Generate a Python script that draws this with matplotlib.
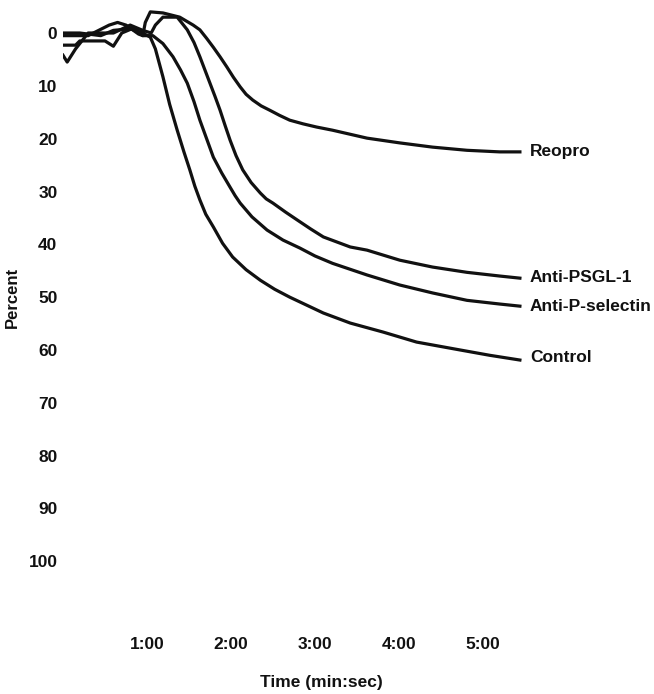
import matplotlib.pyplot as plt

plt.rcParams['font.family'] = ['Liberation Sans', 'DejaVu Sans']

# time in minutes, value in percent (axis is inverted)
t_control = [0.0, 0.2, 0.45, 0.6, 0.8, 0.95, 1.04, 1.10, 1.19, 1.27, 1.36, 1.44, 1.51, 1.57,
             1.63, 1.70, 1.79, 1.90, 2.02, 2.18, 2.35, 2.52, 2.70, 3.10, 3.42, 3.81, 4.21,
             4.73, 5.08, 5.44]
v_control = [0.0, 0.0, 0.5, -0.5, -0.8, 0.0, 0.8, 3.0, 8.3, 13.5, 18.4, 22.5, 25.9, 29.0,
             31.6, 34.3, 36.7, 39.8, 42.4, 44.8, 46.8, 48.5, 50.0, 53.0, 54.9, 56.6, 58.5,
             60.0, 61.0, 61.9]

t_psel = [0.0, 0.15, 0.2, 0.5, 0.6, 0.7, 0.85, 0.95, 1.07, 1.19, 1.31, 1.40, 1.48, 1.56, 1.63,
          1.71, 1.79, 1.89, 1.99, 2.05, 2.11, 2.25, 2.43, 2.62, 2.82, 3.0, 3.21, 3.62, 4.01,
          4.40, 4.81, 5.20, 5.44]
v_psel = [2.3, 2.3, 1.5, 1.5, 2.5, 0.0, -1.0, 0.5, 0.5, 2.0, 4.5, 7.0, 9.5, 13.0, 16.5,
          20.0, 23.5, 26.5, 29.2, 30.8, 32.2, 34.8, 37.3, 39.2, 40.7, 42.2, 43.6, 45.8, 47.7,
          49.2, 50.6, 51.3, 51.7]

t_psgl = [0.0, 0.05, 0.15, 0.3, 0.6, 0.8, 0.95, 1.05, 1.1, 1.19, 1.36, 1.48, 1.56, 1.63, 1.69,
          1.75, 1.81, 1.87, 1.93, 1.99, 2.06, 2.14, 2.24, 2.35, 2.42, 2.50, 2.65, 2.79, 2.95,
          3.10, 3.42, 3.62, 4.01, 4.40, 4.81, 5.20, 5.44]
v_psgl = [4.2, 5.5, 3.0, 0.0, 0.0, -1.5, -0.5, 0.0, -1.5, -3.0, -3.0, -0.6, 1.8, 4.5, 7.0,
          9.5, 12.0, 14.6, 17.5, 20.3, 23.2, 25.9, 28.3, 30.3, 31.4, 32.2, 33.9, 35.4, 37.1,
          38.6, 40.5, 41.1, 43.0, 44.3, 45.3, 46.0, 46.4]

t_reopro = [0.0, 0.3, 0.55, 0.65, 0.75, 0.9, 0.95, 0.98, 1.04, 1.19, 1.39, 1.55, 1.63, 1.71,
            1.79, 1.87, 1.95, 2.03, 2.11, 2.18, 2.26, 2.36, 2.46, 2.58, 2.70, 2.86, 3.02,
            3.21, 3.62, 4.01, 4.40, 4.81, 5.20, 5.44]
v_reopro = [0.5, 0.5, -1.5, -2.0, -1.5, 0.2, 0.5, -2.0, -4.0, -3.8, -3.0, -1.5, -0.6, 1.0,
            2.7, 4.5, 6.4, 8.4, 10.2, 11.6, 12.7, 13.8, 14.6, 15.6, 16.5, 17.2, 17.8,
            18.4, 19.9, 20.8, 21.6, 22.2, 22.5, 22.5]

names = ["Reopro", "Anti-PSGL-1", "Anti-P-selectin", "Control"]
label_y = [22.5, 46.2, 51.7, 61.4]

y_ticks = [0, 10, 20, 30, 40, 50, 60, 70, 80, 90, 100]
x_ticks = [1, 2, 3, 4, 5]
x_ticklabels = ["1:00", "2:00", "3:00", "4:00", "5:00"]

fig = plt.figure(figsize=(6.54, 6.94), dpi=100)
ax = fig.add_axes([0.0963, 0.0922, 0.899, 0.8983])

for t, v in [(t_reopro, v_reopro), (t_psgl, v_psgl), (t_psel, v_psel), (t_control, v_control)]:
    ax.plot(t, v, color="#111111", linewidth=2.3)

for name, yv in zip(names, label_y):
    ax.text(5.56, yv, name, fontsize=12.5, fontweight="bold", va="center", ha="left",
            color="#111111", clip_on=False)

ax.set_xlim(0, 7)
ax.set_ylim(113, -5)
ax.set_yticks(y_ticks)
ax.set_xticks(x_ticks)
ax.set_xticklabels(x_ticklabels)
ax.tick_params(length=0, labelsize=12.5, colors="#111111")
ax.tick_params(axis="y", pad=4)
ax.tick_params(axis="x", pad=5)
for lab in ax.get_xticklabels() + ax.get_yticklabels():
    lab.set_fontweight("bold")
for s in ax.spines.values():
    s.set_visible(False)

ax.set_ylabel("Percent", fontsize=12, fontweight="bold", color="#111111")
ax.yaxis.set_label_coords(-0.073, 0.533)
fig.text(321 / 654, 1 - 682 / 694, "Time (min:sec)", fontsize=12.5, fontweight="bold",
         color="#111111", ha="center", va="center")

fig.savefig("out.png", dpi=100)
